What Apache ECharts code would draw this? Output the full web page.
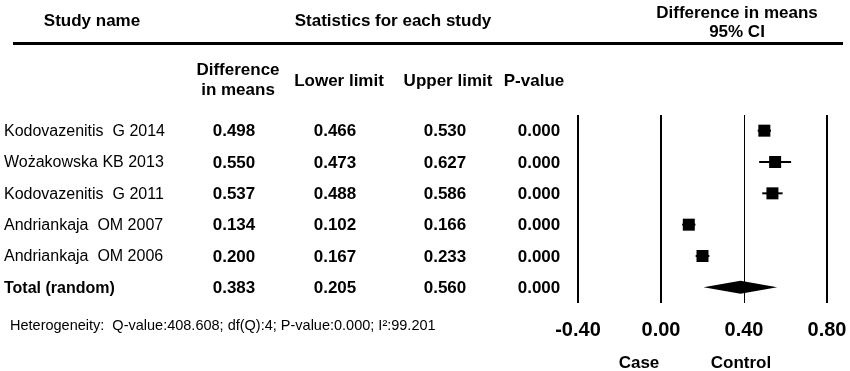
<!DOCTYPE html>
<html>
<head>
<meta charset="utf-8">
<script src="https://cdn.jsdelivr.net/npm/echarts@6/dist/echarts.min.js"></script>
<style>
  html, body { margin: 0; padding: 0; background: #fff; }
  #chart { width: 850px; height: 371px; }
</style>
</head>
<body>
<div id="chart"></div>
<script>
var studyNames = [
  "Kodovazenitis  G 2014",
  "Wożakowska KB 2013",
  "Kodovazenitis  G 2011",
  "Andriankaja  OM 2007",
  "Andriankaja  OM 2006",
  "Total (random)"
];
var diffMeans = [0.498, 0.550, 0.537, 0.134, 0.200, 0.383];
var lowerLimits = [0.466, 0.473, 0.488, 0.102, 0.167, 0.205];
var upperLimits = [0.530, 0.627, 0.586, 0.166, 0.233, 0.560];
var pValues = [0.000, 0.000, 0.000, 0.000, 0.000, 0.000];
var xTicks = [-0.4, 0, 0.4, 0.8];
var heterogeneity = "Heterogeneity:  Q-value:408.608; df(Q):4; P-value:0.000; I\u00b2:99.201";

var FONT = '"Liberation Sans", Arial, sans-serif';
var totalIndex = studyNames.length - 1;

var dom = document.getElementById("chart");
var myChart = echarts.init(dom, null, { renderer: "canvas" });

var forestData = diffMeans.map(function (m, i) {
  return [m, lowerLimits[i], upperLimits[i], i];
});

var option = {
  animation: false,
  grid: { left: 578, right: 23, top: 115, bottom: 68 },
  xAxis: {
    type: "value",
    min: -0.4,
    max: 0.8,
    interval: 0.4,
    axisLine: { show: false },
    axisTick: { show: false },
    splitLine: { show: false },
    axisLabel: {
      margin: 17,
      color: "#000",
      fontFamily: FONT,
      fontSize: 20,
      fontWeight: "bold",
      formatter: function (v) { return v.toFixed(2); }
    }
  },
  yAxis: {
    type: "category",
    data: studyNames,
    inverse: true,
    show: false
  },
  series: [
    {
      type: "custom",
      data: forestData,
      renderItem: function (params, api) {
        var idx = api.value(3);
        var mean = api.coord([api.value(0), idx]);
        var lo = api.coord([api.value(1), idx]);
        var hi = api.coord([api.value(2), idx]);
        var y = mean[1];
        if (idx === totalIndex) {
          // pooled estimate drawn as a diamond
          return {
            type: "polygon",
            shape: { points: [[lo[0], y], [mean[0], y - 6.5], [hi[0], y], [mean[0], y + 6.5]] },
            style: { fill: "#000" }
          };
        }
        return {
          type: "group",
          children: [
            {
              type: "line",
              shape: { x1: lo[0], y1: y, x2: hi[0], y2: y },
              style: { stroke: "#000", lineWidth: 2 }
            },
            {
              type: "rect",
              shape: { x: mean[0] - 6, y: y - 6, width: 12, height: 12 },
              style: { fill: "#000" }
            }
          ]
        };
      },
      markLine: {
        silent: true,
        symbol: ["none", "none"],
        label: { show: false },
        data: xTicks.map(function (t) {
          return { xAxis: t, lineStyle: { color: "#000", type: "solid", width: t === 0.4 ? 1 : 2 } };
        })
      },
      z: 3
    }
  ]
};

myChart.setOption(option);

// table text, rows aligned with the category axis
var colX = [234, 335, 445, 539];
var graphics = [];
function txt(s, x, y, size, bold, align) {
  graphics.push({
    type: "text",
    x: x, y: y,
    style: {
      text: s,
      fill: "#000",
      font: (bold ? "bold " : "") + size + "px " + FONT,
      textAlign: align || "center",
      textVerticalAlign: "middle"
    },
    silent: true
  });
}

txt("Study name", 92, 21, 17, true);
txt("Statistics for each study", 393, 21, 17, true);
txt("Difference in means", 737, 13, 17, true);
txt("95% CI", 737, 32, 17, true);
graphics.push({
  type: "line",
  shape: { x1: 13, y1: 43.5, x2: 843, y2: 43.5 },
  style: { stroke: "#000", lineWidth: 3 },
  silent: true
});
txt("Difference", 238, 70, 17, true);
txt("in means", 238, 90, 17, true);
txt("Lower limit", 339, 81, 17, true);
txt("Upper limit", 448, 81, 17, true);
txt("P-value", 534, 81, 17, true);

studyNames.forEach(function (name, i) {
  var y = myChart.convertToPixel({ yAxisIndex: 0 }, i) + 1;
  var isTotal = i === totalIndex;
  txt(name, 4, y, 16, isTotal, "left");
  txt(diffMeans[i].toFixed(3), colX[0], y, 17, true);
  txt(lowerLimits[i].toFixed(3), colX[1], y, 17, true);
  txt(upperLimits[i].toFixed(3), colX[2], y, 17, true);
  txt(pValues[i].toFixed(3), colX[3], y, 17, true);
});

txt(heterogeneity, 10, 326, 14.5, false, "left");
txt("Case", 639, 363, 17, true);
txt("Control", 741, 363, 17, true);

myChart.setOption({ graphic: graphics });

window.addEventListener("resize", myChart.resize);
</script>
</body>
</html>
